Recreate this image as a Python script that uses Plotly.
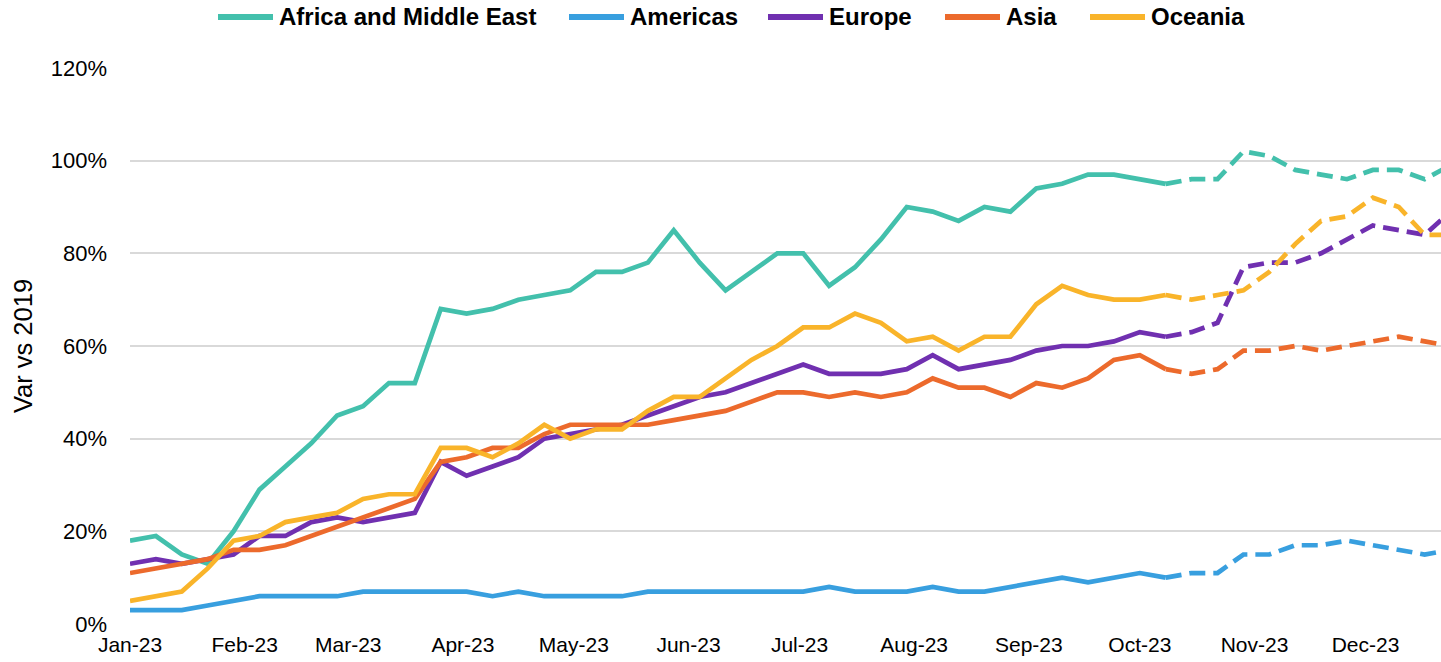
import pandas as pd
import plotly.graph_objects as go

# Weekly index (week starting Sunday), Jan 2023 through Dec 2023
weeks = pd.date_range("2023-01-01", periods=52, freq="7D")

# Index of the first forecast week: actuals are solid up to here, forecast dashed from here
forecast_start = 40

regions = ["Africa and Middle East", "Americas", "Europe", "Asia", "Oceania"]

africa_me = [18, 19, 15, 13, 20, 29, 34, 39, 45, 47, 52, 52, 68, 67, 68, 70, 71, 72, 76, 76,
             78, 85, 78, 72, 76, 80, 80, 73, 77, 83, 90, 89, 87, 90, 89, 94, 95, 97, 97, 96,
             95, 96, 96, 102, 101, 98, 97, 96, 98, 98, 96, 99]
americas = [3, 3, 3, 4, 5, 6, 6, 6, 6, 7, 7, 7, 7, 7, 6, 7, 6, 6, 6, 6,
            7, 7, 7, 7, 7, 7, 7, 8, 7, 7, 7, 8, 7, 7, 8, 9, 10, 9, 10, 11,
            10, 11, 11, 15, 15, 17, 17, 18, 17, 16, 15, 16]
europe = [13, 14, 13, 14, 15, 19, 19, 22, 23, 22, 23, 24, 35, 32, 34, 36, 40, 41, 42, 43,
          45, 47, 49, 50, 52, 54, 56, 54, 54, 54, 55, 58, 55, 56, 57, 59, 60, 60, 61, 63,
          62, 63, 65, 77, 78, 78, 80, 83, 86, 85, 84, 89]
asia = [11, 12, 13, 14, 16, 16, 17, 19, 21, 23, 25, 27, 35, 36, 38, 38, 41, 43, 43, 43,
        43, 44, 45, 46, 48, 50, 50, 49, 50, 49, 50, 53, 51, 51, 49, 52, 51, 53, 57, 58,
        55, 54, 55, 59, 59, 60, 59, 60, 61, 62, 61, 60]
oceania = [5, 6, 7, 12, 18, 19, 22, 23, 24, 27, 28, 28, 38, 38, 36, 39, 43, 40, 42, 42,
           46, 49, 49, 53, 57, 60, 64, 64, 67, 65, 61, 62, 59, 62, 62, 69, 73, 71, 70, 70,
           71, 70, 71, 72, 76, 82, 87, 88, 92, 90, 84, 84]

series = [africa_me, americas, europe, asia, oceania]
colors = ["#43C0AC", "#389FDF", "#7030B0", "#EC6A2C", "#F9B42A"]

FONT = "Liberation Sans, Arial, sans-serif"
W, H = 1441, 662
M_L, M_R, M_T, M_B = 130, 0, 68, 38

fig = go.Figure()
for name, vals, col in zip(regions, series, colors):
    # actuals
    fig.add_trace(go.Scatter(
        x=weeks[:forecast_start + 1], y=vals[:forecast_start + 1],
        mode="lines", name=name, showlegend=False,
        line=dict(color=col, width=4.7),
        hovertemplate="%{x|%d %b %Y}: %{y}%<extra>" + name + "</extra>",
    ))
    # forecast
    fig.add_trace(go.Scatter(
        x=weeks[forecast_start:], y=vals[forecast_start:],
        mode="lines", name=name + " (forecast)", showlegend=False,
        line=dict(color=col, width=4.7, dash="16px,8px"),
        hovertemplate="%{x|%d %b %Y}: %{y}%<extra>" + name + "</extra>",
    ))

# Legend row across the top: a short coloured line followed by the bold label
legend_left = [218, 569, 768, 945, 1090]
plot_w = W - M_L - M_R
plot_h = H - M_T - M_B
legend_y_px = 17
ly = (H - M_B - legend_y_px) / plot_h
for name, col, x0 in zip(regions, colors, legend_left):
    fig.add_shape(type="line", xref="paper", yref="paper",
                  x0=(x0 - M_L) / plot_w, x1=(x0 + 55 - M_L) / plot_w,
                  y0=ly, y1=ly, line=dict(color=col, width=6))
    fig.add_annotation(xref="paper", yref="paper", x=(x0 + 59 - M_L) / plot_w, y=ly,
                       xanchor="left", yanchor="middle", showarrow=False,
                       text="<b>" + name + "</b>",
                       font=dict(family=FONT, size=24, color="#000000"))

x_end = pd.Timestamp("2023-01-01") + pd.Timedelta(days=(W - M_L - M_R) / 3.699)

fig.update_layout(
    width=W, height=H,
    margin=dict(l=M_L, r=M_R, t=M_T, b=M_B, autoexpand=False),
    paper_bgcolor="white", plot_bgcolor="white",
    showlegend=False,
    font=dict(family=FONT, color="#000000"),
)
fig.update_xaxes(
    type="date", range=["2023-01-01", x_end],
    tick0="2023-01-01", dtick="M1", tickformat="%b-%y",
    showgrid=False, showline=False, zeroline=False, ticks="",
    tickfont=dict(family=FONT, size=21, color="#000000"),
    ticklabelstandoff=6,
)
fig.update_yaxes(
    range=[0, 120], dtick=20, ticksuffix="%",
    showgrid=True, gridcolor="#D9D9D9", gridwidth=1.6,
    zeroline=False, showline=False, ticks="",
    tickfont=dict(family=FONT, size=22, color="#000000"),
    ticklabelstandoff=22,
    title=dict(text="Var vs 2019", standoff=10,
               font=dict(family=FONT, size=25.5, color="#000000")),
)

fig.write_html("out.html")
